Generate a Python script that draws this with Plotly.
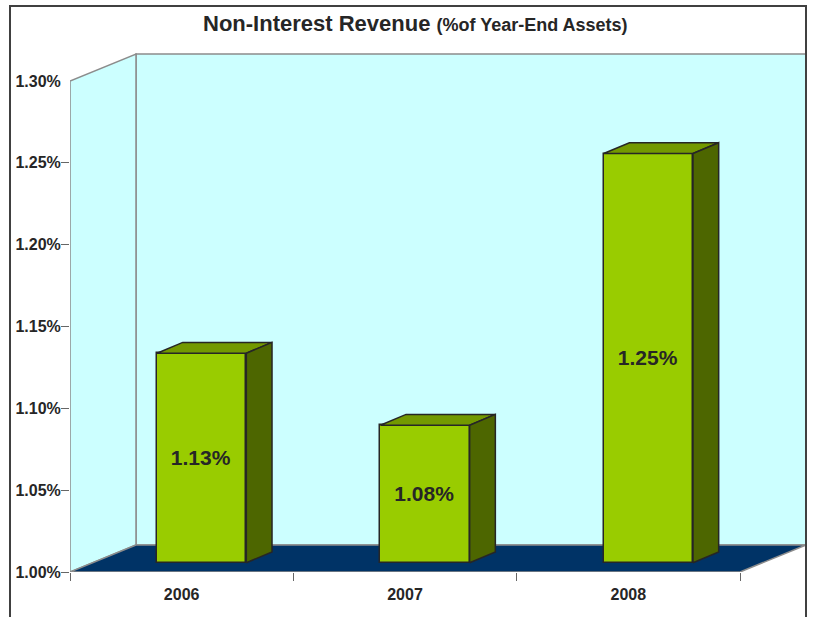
import plotly.graph_objects as go

# ---- data ----
categories = ["2006", "2007", "2008"]
values = [1.128, 1.084, 1.25]
y_ticks = [1.00, 1.05, 1.10, 1.15, 1.20, 1.25, 1.30]
y_min, y_max = 1.00, 1.30
title_main = "Non-Interest Revenue"
title_sub = "(%of Year-End Assets)"

# ---- geometry (pixel scale of the front plane) ----
W, H = 817, 617
LEFT, BOTTOM = 70, 572
px_x = (740 - 70) / 3.0          # px per category unit
px_y = (572 - 81) / (y_max - y_min)  # px per value unit
DX, DY = 66 / px_x, 27 / px_y      # floor / wall depth
FX, FY = 20 / px_x, 9.3 / px_y     # bar front-face offset
BX, BY = 25.7 / px_x, 10.8 / px_y  # bar depth
BW = 89.3 / px_x                   # bar width
pad_x, pad_y = 3 / px_x, 3 / px_y

n = len(categories)
x0, x1 = -0.5, n - 0.5
xr = [x0, x1 + DX + pad_x]
yr = [y_min, y_max + DY + pad_y]
plot_w = (xr[1] - xr[0]) * px_x
plot_h = (yr[1] - yr[0]) * px_y
m_l, m_b = LEFT, H - BOTTOM
m_r = W - LEFT - plot_w
m_t = H - m_b - plot_h

FONT = "Liberation Sans"
TXT = "#262626"
EDGE = "#262626"
WALL = "#CCFFFF"
WALL_LINE = "#8C8C8C"
FLOOR = "#003366"
FRONT = "#99CC00"
TOP = "#739900"
SIDE = "#4D6600"

fig = go.Figure()

xs = [i + FX for i in range(n)]
fig.add_trace(go.Bar(
    x=xs, y=[v - y_min for v in values], base=y_min + FY, width=BW,
    marker=dict(color=FRONT, line=dict(color=EDGE, width=1.5)),
    text=[f"{v:.2f}%" for v in values], textposition="inside",
    insidetextanchor="middle", textangle=0,
    textfont=dict(family=FONT, size=21, color=TXT, weight="bold"),
    hoverinfo="skip", showlegend=False, xaxis="x", yaxis="y",
))

for xc, v in zip(xs, values):
    xl, xrr = xc - BW / 2, xc + BW / 2
    top = v + FY
    base = y_min + FY
    fig.add_trace(go.Scatter(
        x=[xl, xrr, xrr + BX, xl + BX, xl],
        y=[top, top, top + BY, top + BY, top],
        fill="toself", fillcolor=TOP, mode="lines",
        line=dict(color=EDGE, width=1.5), hoverinfo="skip",
        showlegend=False, xaxis="x", yaxis="y2",
    ))
    fig.add_trace(go.Scatter(
        x=[xrr, xrr + BX, xrr + BX, xrr, xrr],
        y=[base, base + BY, top + BY, top, base],
        fill="toself", fillcolor=SIDE, mode="lines",
        line=dict(color=EDGE, width=1.5), hoverinfo="skip",
        showlegend=False, xaxis="x", yaxis="y2",
    ))

shapes = [
    # back wall
    dict(type="rect", xref="x", yref="y", x0=x0 + DX, x1=x1 + DX,
         y0=y_min + DY, y1=y_max + DY, fillcolor=WALL,
         line=dict(color=WALL_LINE, width=1.5), layer="below"),
    # side wall
    dict(type="path", xref="x", yref="y",
         path=f"M {x0},{y_max} L {x0 + DX},{y_max + DY} L {x0 + DX},{y_min + DY} L {x0},{y_min} Z",
         fillcolor=WALL, line=dict(color=WALL_LINE, width=1.5), layer="below"),
    # floor
    dict(type="path", xref="x", yref="y",
         path=f"M {x0},{y_min} L {x1},{y_min} L {x1 + DX},{y_min + DY} L {x0 + DX},{y_min + DY} Z",
         fillcolor=FLOOR, line=dict(color=WALL_LINE, width=1.5), layer="below"),
    # outer frame
    dict(type="rect", xref="paper", yref="paper",
         x0=(10 - LEFT) / plot_w, x1=(806 - LEFT) / plot_w,
         y0=(BOTTOM - 660) / plot_h, y1=(BOTTOM - 6) / plot_h,
         line=dict(color="#404040", width=2), fillcolor="rgba(0,0,0,0)", layer="above"),
]

fig.add_annotation(
    xref="paper", yref="paper",
    x=(415 - LEFT) / plot_w, y=(BOTTOM - 24) / plot_h,
    xanchor="center", yanchor="middle", showarrow=False,
    text=f"<b>{title_main}</b> <b><span style='font-size:18px'>{title_sub}</span></b>",
    font=dict(family=FONT, size=22, color=TXT),
)

tickfont = dict(family=FONT, size=16, color=TXT, weight="bold")
fig.update_layout(
    width=W, height=H,
    margin=dict(l=m_l, r=m_r, t=m_t, b=m_b, pad=0),
    paper_bgcolor="white", plot_bgcolor="white",
    shapes=shapes, showlegend=False, bargap=0,
    xaxis=dict(range=xr, tickmode="array", tickvals=list(range(n)),
               ticktext=categories, ticks="outside", ticklen=8,
               tickcolor="rgba(0,0,0,0)", showgrid=False, zeroline=False,
               showline=False, tickfont=tickfont, fixedrange=True,
               minor=dict(tickmode="array",
                          tickvals=[x0 + i for i in range(n + 1)],
                          ticks="outside", ticklen=8, tickcolor="#666666",
                          tickwidth=1, showgrid=False)),
    yaxis=dict(range=yr, tickmode="array", tickvals=y_ticks,
               ticktext=[f"{t:.2f}%" for t in y_ticks], ticks="outside",
               ticklen=5, tickcolor="rgba(0,0,0,0)", showgrid=False,
               zeroline=False, showline=False, tickfont=tickfont,
               fixedrange=True),
    yaxis2=dict(range=yr, overlaying="y", side="left", anchor="x",
                tickmode="array", tickvals=y_ticks[:-1], ticks="outside",
                ticklen=8, tickcolor="#666666", showticklabels=False,
                showgrid=False, zeroline=False, showline=False,
                fixedrange=True),
)

fig.write_html("out.html", config={"displayModeBar": False},
               post_script="document.body.style.margin='0';")
